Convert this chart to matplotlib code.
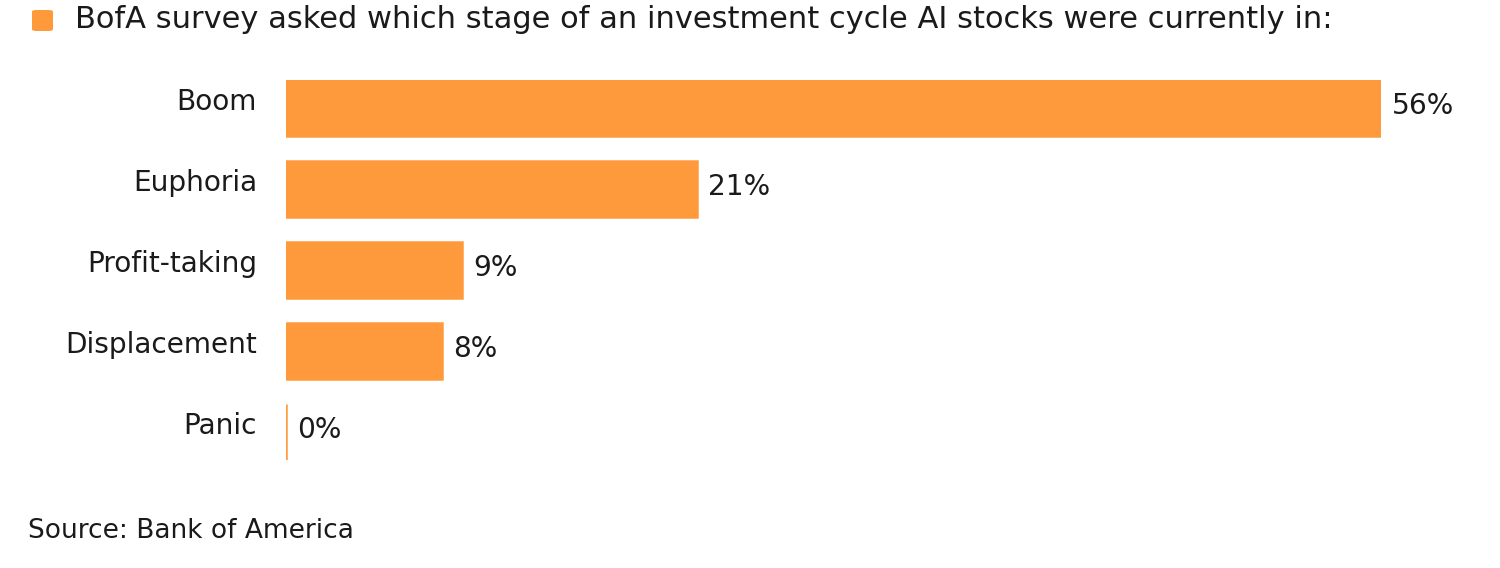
import matplotlib
matplotlib.use("Agg")
import matplotlib.pyplot as plt
from matplotlib.patches import FancyBboxPatch

categories = ["Boom", "Euphoria", "Profit-taking", "Displacement", "Panic"]
values = [56, 21, 9, 8, 0]
value_labels = ["56%", "21%", "9%", "8%", "0%"]
title = "BofA survey asked which stage of an investment cycle AI stocks were currently in:"
source = "Source: Bank of America"

ORANGE = "#FF9A3C"
TEXT = "#1a1a1a"

plt.rcParams['font.family'] = ['DejaVu Sans']

W, H = 1500, 568
fig = plt.figure(figsize=(W / 100, H / 100), dpi=100)
fig.patch.set_facecolor("white")

# axes: x from 286 to 1381 px (0..56), y bars from 80 to 460 px
ax = fig.add_axes([286 / W, 1 - 460 / H, 1095 / W, 380 / H])
bh = 0.69
ypos = list(range(len(categories)))
ax.barh(ypos, values, height=bh, color=ORANGE, edgecolor=ORANGE, linewidth=1.8)
ax.set_xlim(0, 56)
ax.set_ylim(len(categories) - 1 + bh / 2, -bh / 2)
ax.axis("off")

for i, (cat, v, lab) in enumerate(zip(categories, values, value_labels)):
    ax.annotate(cat, xy=(0, i), xytext=(-29, 6), textcoords="offset pixels",
                ha="right", va="center", fontsize=20.2, color=TEXT, annotation_clip=False)
    ax.annotate(lab, xy=(v, i), xytext=(11, 2), textcoords="offset pixels",
                ha="left", va="center", fontsize=20.2, color=TEXT, annotation_clip=False)

# legend square + title
sq = FancyBboxPatch((32 / W, 1 - 31 / H), 21 / W, 21 / H,
                    boxstyle="round,pad=0,rounding_size=0.003",
                    transform=fig.transFigure, facecolor=ORANGE, edgecolor="none")
fig.patches.append(sq)
fig.text(75 / W, 1 - 19 / H, title, ha="left", va="center", fontsize=22, color=TEXT)

fig.text(28 / W, 1 - 531 / H, source, ha="left", va="center", fontsize=19, color=TEXT)

fig.savefig("out.png", dpi=100, facecolor="white")
